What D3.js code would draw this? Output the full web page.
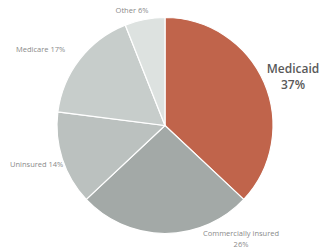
<!DOCTYPE html>
<html><head><meta charset="utf-8">
<script src="https://cdn.jsdelivr.net/npm/d3@7"></script>
<style>body{margin:0;background:#fff}svg{display:block}</style>
</head><body>
<script>
const categories = ["Medicaid","Commercially insured","Uninsured","Medicare","Other"];
const values = [37,26,14,17,6];
const colors = ["#c0644b","#a3a9a7","#bbc1bf","#c7cdcb","#dde2e0"];

const W=322,H=252,cx=165,cy=125.5,r=108;
const svg=d3.select("body").append("svg").attr("width",W).attr("height",H);
const pie=d3.pie().sort(null).value(d=>d)(values);
const arc=d3.arc().innerRadius(0).outerRadius(r);
const g=svg.append("g").attr("transform",`translate(${cx},${cy})`);
g.selectAll("path").data(pie).join("path")
  .attr("d",arc).attr("fill",(d,i)=>colors[i])
  .attr("stroke","#fff").attr("stroke-width",1.2);

const font="Open Sans, sans-serif";
const small=[
  {t:["Other 6%"],x:132,y:13,a:"middle"},
  {t:["Medicare 17%"],x:16,y:52,a:"start"},
  {t:["Uninsured 14%"],x:10,y:167,a:"start"},
  {t:["Commercially insured","26%"],x:241,y:236,a:"middle"}
];
small.forEach(l=>{
  const t=svg.append("text").attr("x",l.x).attr("y",l.y).attr("text-anchor",l.a)
    .attr("font-family",font).attr("font-size",7.5).attr("fill","#8a8a8a");
  l.t.forEach((s,i)=>t.append("tspan").attr("x",l.x).attr("dy",i?10.5:0).text(s));
});
const big=svg.append("text").attr("x",293).attr("y",73).attr("text-anchor","middle")
  .attr("font-family",font).attr("font-size",12).attr("font-weight",600).attr("fill","#595959");
big.append("tspan").attr("x",293).text(categories[0]);
big.append("tspan").attr("x",293).attr("dy",16).text(values[0]+"%");
</script>
</body></html>
